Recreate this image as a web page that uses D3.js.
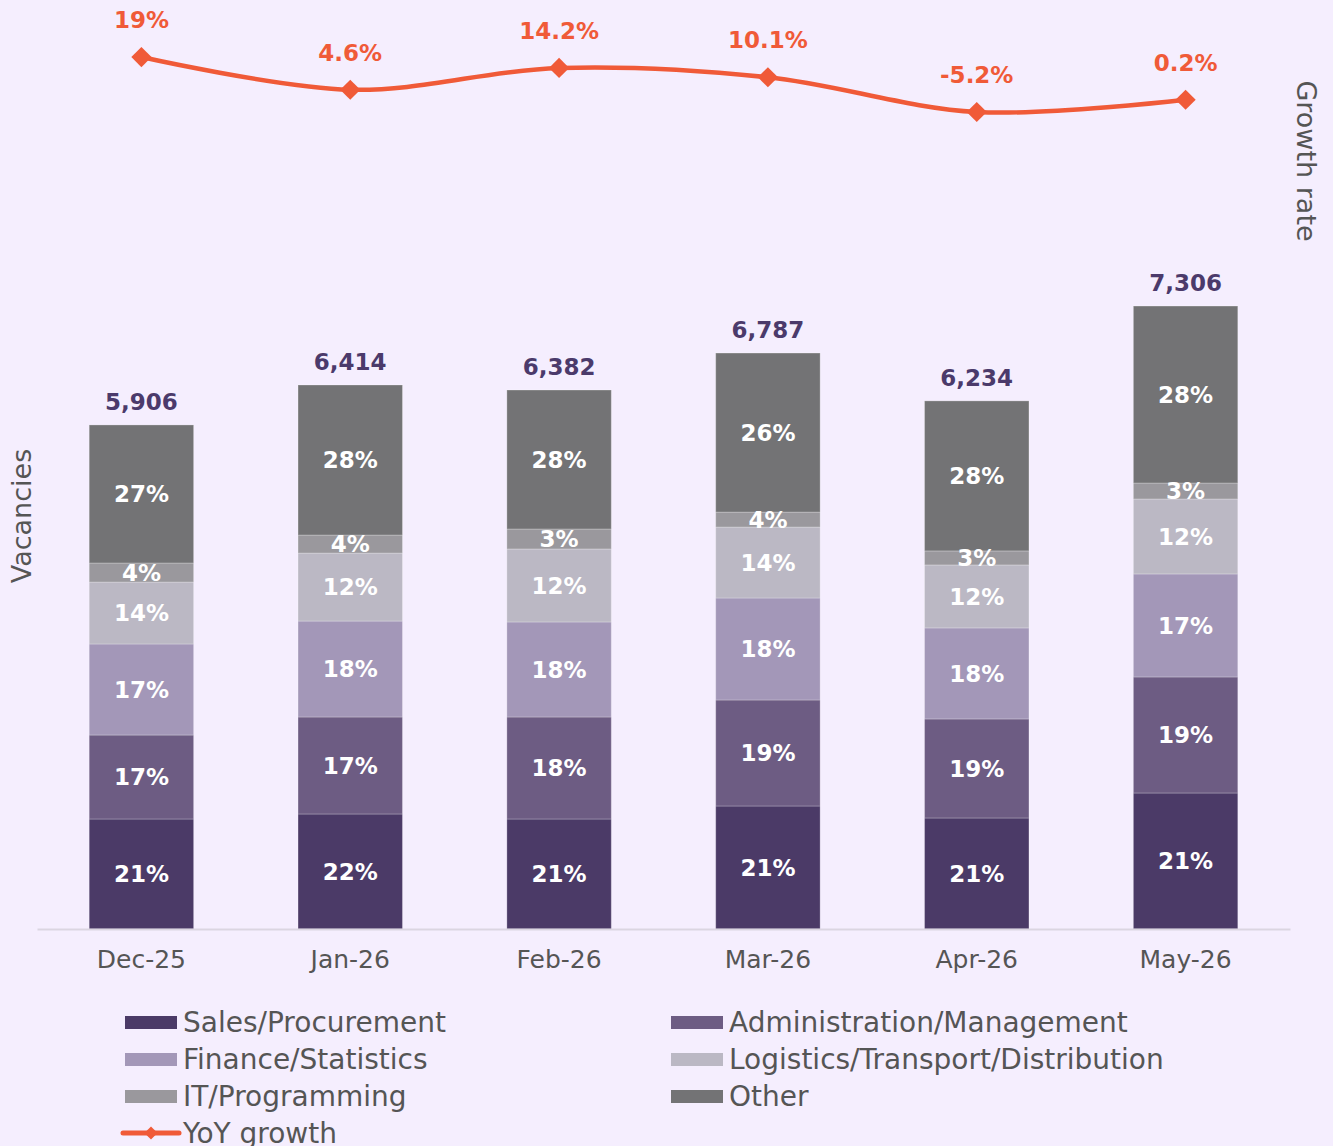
<!DOCTYPE html>
<html>
<head>
<meta charset="utf-8">
<script src="https://cdn.jsdelivr.net/npm/d3@7"></script>
<style>
  html, body { margin: 0; padding: 0; background: #f5eefe; }
  svg { display: block; font-family: "DejaVu Sans", sans-serif; }
</style>
</head>
<body>
<div id="chart"></div>
<script>
// data
var months = ["Dec-25", "Jan-26", "Feb-26", "Mar-26", "Apr-26", "May-26"];
var keys = ["sales", "admin", "finance", "logistics", "it", "other"];
var legendNames = ["Sales/Procurement", "Administration/Management", "Finance/Statistics",
                   "Logistics/Transport/Distribution", "IT/Programming", "Other"];

var sales     = [1294, 1353, 1294, 1447, 1306, 1600];
var admin     = [988, 1141, 1200, 1247, 1165, 1365];
var finance   = [1071, 1129, 1118, 1200, 1071, 1212];
var logistics = [729, 800, 859, 835, 741, 882];
var it        = [224, 212, 235, 176, 165, 188];
var other     = [1624, 1765, 1635, 1871, 1765, 2082];

var totals = [5906, 6414, 6382, 6787, 6234, 7306];
var growth = [19, 4.6, 14.2, 10.1, -5.2, 0.2];

// percentage labels as printed on the bars
var salesPct     = [21, 22, 21, 21, 21, 21];
var adminPct     = [17, 17, 18, 19, 19, 19];
var financePct   = [17, 18, 18, 18, 18, 17];
var logisticsPct = [14, 12, 12, 14, 12, 12];
var itPct        = [4, 4, 3, 4, 3, 3];
var otherPct     = [27, 28, 28, 26, 28, 28];

var width = 1333, height = 1146;
var colors = ["#4b3a67", "#6d5c83", "#a397b8", "#bbb8c4", "#9a989d", "#737375"];
var lineColor = "#f05a38";

var seriesValues = {sales: sales, admin: admin, finance: finance, logistics: logistics, it: it, other: other};
var seriesPct = {sales: salesPct, admin: adminPct, finance: financePct, logistics: logisticsPct, it: itPct, other: otherPct};

var table = months.map(function(m, i) {
    var row = {month: m, total: totals[i], growth: growth[i]};
    keys.forEach(function(k) { row[k] = seriesValues[k][i]; });
    return row;
});

var svg = d3.select("#chart").append("svg")
    .attr("width", width)
    .attr("height", height);

svg.append("rect").attr("width", width).attr("height", height).attr("fill", "#f5eefe");

var x = d3.scaleBand()
    .domain(months)
    .range([37, 1290])
    .paddingInner(0.5)
    .paddingOuter(0.25);

var y = d3.scaleLinear()
    .domain([0, 10000])
    .range([929, 79]);

var yG = d3.scaleLinear()
    .domain([-20, 20])
    .range([145.6, 54.8]);

var color = d3.scaleOrdinal().domain(keys).range(colors);

var stacked = d3.stack().keys(keys)(table);

// bars
var layer = svg.selectAll("g.layer")
    .data(stacked)
    .enter()
    .append("g")
    .attr("class", "layer")
    .attr("fill", function(d) { return color(d.key); });

layer.selectAll("rect")
    .data(function(d) { return d; })
    .enter()
    .append("rect")
    .attr("x", function(d) { return x(d.data.month); })
    .attr("width", x.bandwidth())
    .attr("y", function(d) { return y(d[1]); })
    .attr("height", function(d) { return y(d[0]) - y(d[1]); })
    .attr("stroke", "rgba(255,255,255,0.25)")
    .attr("stroke-width", 1);

// percentage labels inside segments
stacked.forEach(function(s) {
    svg.selectAll(null)
        .data(s)
        .enter()
        .append("text")
        .attr("x", function(d) { return x(d.data.month) + x.bandwidth() / 2; })
        .attr("y", function(d) { return (y(d[0]) + y(d[1])) / 2; })
        .attr("dy", "0.36em")
        .attr("text-anchor", "middle")
        .style("font-size", "23px")
        .style("font-weight", "bold")
        .style("fill", "#ffffff")
        .text(function(d, i) { return seriesPct[s.key][i] + "%"; });
});

// totals above bars
var topLayer = stacked[stacked.length - 1];
svg.selectAll(null)
    .data(topLayer)
    .enter()
    .append("text")
    .attr("x", function(d) { return x(d.data.month) + x.bandwidth() / 2; })
    .attr("y", function(d) { return y(d[1]) - 15; })
    .attr("text-anchor", "middle")
    .style("font-size", "23px")
    .style("font-weight", "bold")
    .style("fill", "#4b3a6b")
    .text(function(d) { return d3.format(",")(d.data.total); });

// x axis baseline
var xAxis = svg.append("g")
    .attr("transform", "translate(0,929)")
    .call(d3.axisBottom(x).tickSize(0).tickPadding(0));
xAxis.select(".domain").attr("stroke", "#dbd5e1").attr("stroke-width", 2);
xAxis.selectAll("text")
    .attr("y", 39)
    .attr("dy", 0)
    .style("font-size", "25px")
    .style("font-family", "DejaVu Sans")
    .style("fill", "#555555");

// axis titles
svg.append("text")
    .attr("transform", "translate(31,516) rotate(-90)")
    .attr("text-anchor", "middle")
    .style("font-size", "27px")
    .style("fill", "#555555")
    .text("Vacancies");

svg.append("text")
    .attr("transform", "translate(1297,161) rotate(90)")
    .attr("text-anchor", "middle")
    .style("font-size", "27px")
    .style("fill", "#555555")
    .text("Growth rate");

// growth line
var cx = function(d) { return x(d.month) + x.bandwidth() / 2; };
var line = d3.line()
    .x(cx)
    .y(function(d) { return yG(d.growth); })
    .curve(d3.curveCatmullRom.alpha(0.5));

svg.append("path")
    .datum(table)
    .attr("d", line)
    .attr("fill", "none")
    .attr("stroke", lineColor)
    .attr("stroke-width", 4.5);

var diamond = d3.symbol().type(d3.symbolDiamond2).size(260);
svg.selectAll("path.marker")
    .data(table)
    .enter()
    .append("path")
    .attr("class", "marker")
    .attr("d", diamond)
    .attr("transform", function(d) { return "translate(" + cx(d) + "," + yG(d.growth) + ")"; })
    .attr("fill", lineColor);

svg.selectAll("text.glabel")
    .data(table)
    .enter()
    .append("text")
    .attr("class", "glabel")
    .attr("x", cx)
    .attr("y", function(d) { return yG(d.growth) - 29; })
    .attr("text-anchor", "middle")
    .style("font-size", "23px")
    .style("font-weight", "bold")
    .style("fill", lineColor)
    .text(function(d) { return d.growth + "%"; });

// legend
var legendCols = [125, 671];
var legendRows = [1022, 1059, 1096, 1133];
var legend = svg.append("g");
keys.forEach(function(k, i) {
    var lx = legendCols[i % 2], ly = legendRows[Math.floor(i / 2)];
    legend.append("rect")
        .attr("x", lx)
        .attr("y", ly - 6)
        .attr("width", 52)
        .attr("height", 13)
        .attr("fill", color(k));
    legend.append("text")
        .attr("x", lx + 58)
        .attr("y", ly + 10)
        .style("font-size", "28px")
        .style("fill", "#555555")
        .text(legendNames[i]);
});
var ly = legendRows[3];
legend.append("line")
    .attr("x1", 123).attr("x2", 179)
    .attr("y1", ly).attr("y2", ly)
    .attr("stroke", lineColor)
    .attr("stroke-width", 5)
    .attr("stroke-linecap", "round");
legend.append("path")
    .attr("d", d3.symbol().type(d3.symbolDiamond2).size(110))
    .attr("transform", "translate(151," + ly + ")")
    .attr("fill", lineColor);
legend.append("text")
    .attr("x", 183)
    .attr("y", ly + 10)
    .style("font-size", "28px")
    .style("fill", "#555555")
    .text("YoY growth");
</script>
</body>
</html>
